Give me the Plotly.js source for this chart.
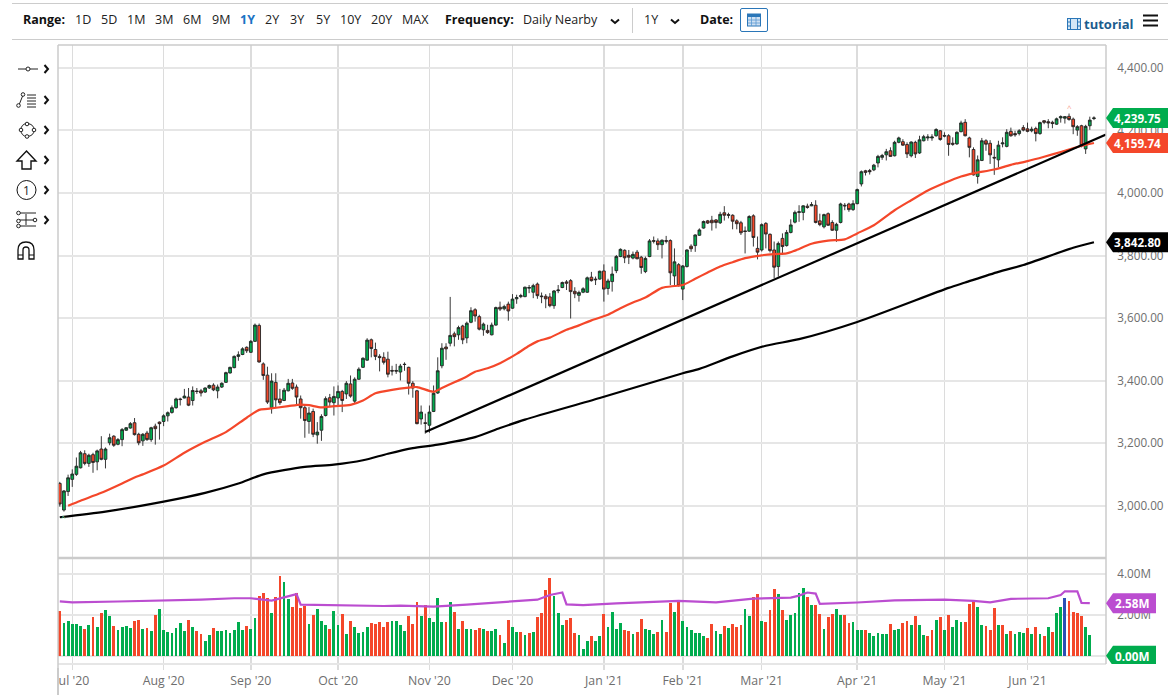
<!DOCTYPE html>
<html>
<head>
<meta charset="utf-8">
<script src="https://cdn.plot.ly/plotly-3.0.1.min.js"></script>
<style>
html,body{margin:0;padding:0;background:#fff;overflow:hidden;width:1174px;height:695px;font-family:"Open Sans",sans-serif;}
#chart{position:absolute;left:0;top:0;width:1174px;height:695px;}
.t{position:absolute;font-size:12.5px;color:#222;line-height:16px;white-space:nowrap;z-index:5;}
.b{font-weight:700;color:#111;}
.hl{position:absolute;height:1px;background:#ccc;z-index:5;}
svg.ic{position:absolute;z-index:5;overflow:visible;}
</style>
</head>
<body>
<div id="chart"></div>
<div id="ui"></div>
<script>
// ---- Data ----
const monthTickDays = [3, 25, 46, 67, 89, 109, 131, 150, 169, 192, 213, 233];
const monthTickLabels = ["Jul '20", "Aug '20", "Sep '20", "Oct '20", "Nov '20", "Dec '20", "Jan '21", "Feb '21", "Mar '21", "Apr '21", "May '21", "Jun '21"];

const opens = [
3072,2987,3046,3085,3101,3122,3167,3136,3164,3141,
3182,3149,3202,3223,3197,3212,3242,3249,3266,3229,
3208,3233,3212,3255,3268,3270,3288,3299,3314,3342,
3345,3348,3337,3367,3368,3364,3377,3386,3368,3380,
3395,3425,3442,3478,3484,3507,3491,3526,3577,3454,
3418,3314,3395,3342,3337,3368,3393,3380,3342,3314,
3270,3302,3227,3242,3289,3346,3330,3345,3366,3358,
3390,3335,3405,3443,3466,3531,3500,3478,3475,3469,
3433,3433,3428,3453,3443,3392,3368,3278,3266,3258,
3302,3361,3448,3508,3520,3550,3547,3575,3537,3587,
3627,3605,3563,3561,3547,3578,3635,3630,3645,3632,
3662,3669,3669,3696,3683,3709,3671,3670,3668,3640,
3688,3698,3716,3720,3686,3673,3683,3683,3731,3725,
3725,3751,3695,3717,3752,3797,3817,3801,3792,3811,
3795,3749,3797,3848,3847,3835,3848,3848,3735,3771,
3693,3765,3830,3832,3865,3888,3911,3913,3914,3905,
3937,3931,3929,3911,3905,3879,3878,3927,3823,3818,
3903,3868,3818,3765,3855,3832,3874,3907,3938,3938,
3958,3959,3961,3911,3892,3934,3906,3881,3906,3961,
3965,3947,3966,4029,4071,4072,4074,4096,4114,4122,
4135,4119,4162,4164,4155,4119,4162,4128,4167,4176,
4176,4183,4199,4184,4183,4159,4157,4196,4226,4176,
4139,4053,4104,4167,4159,4114,4106,4157,4149,4197,
4190,4190,4209,4205,4199,4206,4190,4231,4228,4226,
4220,4240,4239,4245,4236,4201,4215,4141,4215,4238];
const closes = [
3006,3048,3090,3102,3127,3170,3136,3162,3139,3176,
3149,3182,3218,3194,3212,3244,3250,3263,3228,3202,
3229,3212,3250,3247,3263,3288,3298,3314,3342,3340,
3351,3322,3369,3366,3361,3377,3385,3371,3380,3392,
3426,3443,3478,3483,3502,3496,3526,3578,3460,3417,
3332,3399,3339,3330,3370,3392,3376,3348,3314,3273,
3297,3229,3236,3286,3343,3332,3350,3366,3337,3392,
3351,3405,3437,3472,3530,3503,3478,3474,3459,3421,
3431,3431,3447,3452,3392,3377,3263,3300,3264,3300,
3360,3432,3504,3502,3545,3541,3570,3531,3584,3624,
3607,3565,3581,3554,3578,3634,3629,3637,3623,3661,
3666,3672,3699,3698,3704,3672,3669,3662,3640,3687,
3690,3714,3712,3685,3678,3682,3694,3729,3720,3723,
3750,3693,3719,3741,3797,3820,3793,3795,3804,3790,
3762,3791,3847,3846,3835,3849,3846,3745,3780,3704,
3767,3818,3822,3866,3882,3909,3904,3905,3906,3932,
3929,3929,3910,3902,3873,3877,3925,3858,3811,3899,
3869,3816,3763,3839,3829,3874,3898,3938,3940,3959,
3954,3963,3906,3899,3931,3897,3881,3900,3965,3959,
3947,3966,4011,4068,4066,4068,4089,4117,4120,4132,
4117,4162,4176,4153,4125,4163,4125,4170,4180,4179,
4179,4203,4171,4182,4155,4156,4194,4224,4183,4146,
4058,4106,4167,4156,4122,4112,4153,4160,4194,4183,
4186,4199,4201,4197,4204,4190,4225,4226,4224,4222,
4237,4244,4244,4235,4212,4212,4151,4213,4233,4239.75];
const highs = [
3077,3051,3100,3117,3155,3176,3178,3167,3170,3180,
3223,3187,3231,3226,3217,3249,3252,3268,3281,3234,
3233,3240,3253,3263,3270,3293,3302,3321,3346,3346,
3374,3377,3382,3377,3374,3379,3388,3392,3388,3395,
3429,3445,3481,3494,3507,3510,3530,3583,3583,3459,
3445,3424,3424,3374,3377,3406,3406,3388,3353,3323,
3316,3311,3268,3293,3350,3358,3382,3385,3371,3399,
3417,3411,3443,3475,3536,3535,3522,3485,3491,3493,
3448,3454,3454,3459,3445,3399,3371,3321,3295,3321,
3385,3475,3520,3520,3668,3557,3576,3579,3589,3635,
3632,3611,3586,3579,3586,3637,3653,3643,3653,3677,
3675,3678,3701,3706,3710,3714,3682,3677,3680,3690,
3706,3717,3722,3725,3699,3688,3699,3733,3748,3733,
3752,3772,3726,3765,3802,3823,3820,3818,3813,3818,
3799,3797,3853,3861,3855,3852,3863,3852,3823,3776,
3770,3820,3836,3868,3887,3912,3914,3927,3917,3940,
3958,3937,3932,3916,3911,3893,3929,3932,3861,3903,
3907,3871,3845,3845,3871,3882,3916,3944,3961,3961,
3966,3971,3977,3934,3934,3938,3913,3905,3969,3968,
3969,3977,4014,4072,4074,4077,4093,4122,4125,4141,
4146,4167,4180,4172,4162,4165,4167,4183,4186,4188,
4188,4207,4201,4194,4188,4178,4197,4231,4236,4180,
4146,4120,4176,4172,4169,4141,4167,4178,4204,4209,
4199,4204,4217,4225,4212,4212,4228,4233,4236,4231,
4241,4248,4246,4254,4241,4217,4218,4218,4244,4245];
const lows = [
2998,2982,3032,3061,3096,3120,3130,3125,3106,3114,
3146,3120,3194,3189,3194,3191,3240,3247,3225,3194,
3192,3208,3205,3196,3212,3255,3270,3295,3311,3321,
3344,3319,3321,3358,3350,3361,3374,3367,3344,3377,
3393,3423,3440,3464,3482,3489,3489,3524,3458,3403,
3326,3295,3316,3323,3335,3366,3371,3321,3279,3218,
3231,3220,3199,3208,3286,3316,3289,3321,3300,3342,
3346,3329,3403,3441,3464,3475,3466,3430,3452,3411,
3417,3422,3401,3432,3356,3346,3261,3260,3231,3234,
3300,3358,3440,3467,3510,3510,3531,3517,3520,3584,
3589,3561,3544,3550,3545,3576,3623,3625,3592,3630,
3646,3664,3667,3680,3664,3662,3648,3632,3635,3630,
3680,3696,3690,3599,3664,3653,3680,3681,3717,3706,
3723,3653,3675,3685,3744,3795,3776,3773,3788,3788,
3742,3744,3795,3839,3818,3791,3839,3706,3703,3701,
3658,3762,3812,3812,3863,3886,3901,3880,3887,3901,
3912,3919,3884,3884,3866,3807,3876,3829,3788,3813,
3823,3810,3728,3733,3802,3829,3871,3903,3908,3913,
3950,3958,3903,3894,3887,3895,3879,3844,3903,3945,
3940,3943,3964,4021,4056,4059,4070,4082,4106,4104,
4116,4117,4159,4151,4112,4114,4112,4125,4165,4167,
4167,4180,4167,4178,4119,4151,4154,4194,4181,4114,
4056,4030,4102,4135,4093,4058,4082,4146,4146,4180,
4180,4184,4197,4194,4194,4165,4186,4220,4207,4207,
4218,4225,4222,4231,4188,4183,4146,4125,4202,4233];

const ma50Days = [2,5,10,15,18,20,25,30,35,40,45,48,50,55,58,60,63,66,70,73,76,80,84,86,90,92,95,98,100,103,106,110,113,115,118,122,125,128,132,135,138,141,145,148,150,153,156,159,162,165,169,172,175,177,181,185,189,192,196,201,205,209,213,217,220,225,229,233,237,241,245,249];
const ma50Values = [3001,3017,3042,3072,3091,3101,3129,3170,3205,3236,3282,3307,3310,3319,3324,3322,3315,3319,3323,3337,3360,3371,3378,3380,3365,3377,3395,3414,3429,3440,3456,3486,3512,3526,3538,3563,3577,3593,3611,3632,3650,3666,3697,3703,3706,3726,3746,3765,3779,3792,3801,3805,3807,3816,3838,3848,3852,3871,3897,3945,3977,4008,4032,4053,4063,4075,4090,4102,4116,4131,4147,4159.74];

const ma200Days = [0,11,25,35,43,49,59,66,73,79,85,91,100,106,112,130,150,154,162,170,178,192,214,218,226,232,244,249];
const ma200Values = [2964,2982,3014,3042,3072,3101,3125,3132,3146,3167,3185,3196,3220,3249,3276,3345,3424,3438,3478,3512,3533,3588,3697,3714,3748,3770,3825,3842.8];

const trendDays = [88, 251.9];
const trendValues = [3236, 4187];

const volumes = [
2.21,1.59,1.72,1.54,1.54,1.46,1.33,1.52,1.89,1.41,
2.08,2.26,1.93,1.46,1.25,1.39,1.46,1.34,1.72,1.75,
1.30,1.38,1.21,2.00,2.30,1.25,1.15,1.11,1.34,1.61,
1.20,1.74,1.41,1.21,1.07,0.75,1.02,1.36,1.20,1.21,
1.28,1.13,1.26,1.64,1.25,1.44,1.31,1.87,2.92,3.07,
2.84,2.10,2.89,3.93,3.62,2.79,2.38,3.08,2.36,2.46,
1.57,1.98,2.30,1.70,1.49,1.33,2.18,1.51,2.05,1.07,
1.70,1.39,1.10,1.16,1.39,1.62,1.54,1.66,1.39,1.64,
1.70,1.69,1.51,1.21,1.95,1.56,2.62,1.97,2.51,1.85,
1.66,2.82,1.67,1.64,2.62,2.16,1.31,1.69,1.33,1.31,
1.26,1.34,1.30,1.20,1.21,1.30,1.02,0.62,1.74,1.41,
1.15,1.15,1.02,1.11,1.18,1.90,2.10,3.23,3.80,2.95,
2.10,1.51,1.74,1.85,1.10,1.02,0.34,0.75,0.98,0.75,
0.98,2.05,1.41,2.13,1.31,1.62,1.28,1.20,1.05,1.15,
1.79,1.30,1.25,1.07,1.18,1.75,1.16,2.61,2.15,2.66,
1.69,1.41,1.26,1.13,1.13,0.97,0.87,1.56,1.21,1.05,
1.46,1.38,1.54,1.43,1.51,2.31,1.95,2.89,3.03,1.70,
1.66,2.25,3.26,3.02,2.25,1.75,1.98,2.10,3.07,3.30,
2.87,2.48,2.48,2.05,1.31,1.89,2.07,2.30,2.00,2.00,
1.59,1.64,1.25,1.25,1.25,1.11,0.98,1.10,1.08,1.08,
1.54,1.28,1.30,1.61,1.70,1.51,1.95,1.51,1.02,0.97,
1.28,1.75,1.90,1.26,2.00,1.41,1.75,1.66,1.67,2.54,
2.66,2.39,1.51,1.48,1.28,2.33,1.49,1.49,1.05,1.21,
1.05,1.16,1.11,1.38,1.07,1.39,1.07,0.97,1.41,1.16,
2.08,2.39,2.84,2.66,2.13,2.08,1.95,1.41,1.02,0];

const volumeRedDays = [0,6,8,10,13,18,19,21,23,31,33,34,37,45,48,49,50,52,53,56,57,58,59,61,65,68,70,75,76,77,78,79,84,85,86,88,93,95,97,100,101,103,106,108,111,113,115,116,117,118,122,123,124,128,131,136,137,139,140,144,146,147,149,156,157,160,162,163,164,167,168,170,171,172,174,180,182,183,185,186,189,190,194,200,203,204,206,209,210,212,214,218,219,220,223,224,225,227,229,233,235,237,239,243,244,245,246];
const volumeBlueDays = [242];

const volMaDays = [0,3,14,26,34,42,46,51,54,57,58,62,78,82,90,98,108,115,118,121,122,126,134,149,158,167,176,178,180,182,183,192,201,213,220,224,229,238,241,242,245,246,248];
const volMaValues = [2.67,2.62,2.66,2.70,2.75,2.82,2.82,2.70,2.87,3.02,2.51,2.49,2.44,2.46,2.41,2.51,2.64,2.75,2.98,3.10,2.52,2.48,2.57,2.69,2.62,2.80,2.85,2.95,3.10,3.05,2.54,2.61,2.72,2.75,2.69,2.62,2.79,2.82,2.98,3.16,3.16,2.59,2.58];

const priceTicks = [3000,3200,3400,3600,3800,4000,4200,4400];
const volumeTicks = [0,2,4];
const volumeTickLabels = ["", "2.00M", "4.00M"];
const lastPrice = 4239.75, lastMa50 = 4159.74, lastMa200 = 3842.80, lastVolMa = 2.58, lastVolume = 0;

// ---- Styles ----
const GREEN = "#00ac4e", RED = "#f4472a", BLACK = "#000", PURPLE = "#bb4dd0", BLUE = "#2b4fb5";
const TEXT = "#6e6e6e", HGRID = "#e6e6e6", VGRID = "#dcdcdc", EDGE = "#cbcbcb";
const FONT = '"Open Sans", sans-serif';

const days = opens.map((_, i) => i);
const volumeColors = days.map(i => volumeBlueDays.includes(i) ? BLUE : (volumeRedDays.includes(i) ? RED : GREEN));

const traces = [
  {type:"bar", x:days, y:volumes, xaxis:"x", yaxis:"y2", width:0.68,
   marker:{color:volumeColors, line:{width:0}}, hoverinfo:"skip"},
  {type:"scatter", mode:"lines", x:volMaDays, y:volMaValues, xaxis:"x", yaxis:"y2",
   line:{color:PURPLE, width:2.2}, hoverinfo:"skip"},
  {type:"candlestick", x:days, open:opens, high:highs, low:lows, close:closes, xaxis:"x", yaxis:"y",
   increasing:{line:{color:"#222", width:0.9}, fillcolor:GREEN},
   decreasing:{line:{color:"#222", width:0.9}, fillcolor:RED},
   whiskerwidth:0, hoverinfo:"skip"},
  {type:"scatter", mode:"lines", x:ma200Days, y:ma200Values, xaxis:"x", yaxis:"y",
   line:{color:BLACK, width:2.2, shape:"spline", smoothing:0.7}, hoverinfo:"skip"},
  {type:"scatter", mode:"lines", x:ma50Days, y:ma50Values, xaxis:"x", yaxis:"y",
   line:{color:RED, width:2.2, shape:"spline", smoothing:0.7}, hoverinfo:"skip"},
  {type:"scatter", mode:"lines", x:trendDays, y:trendValues, xaxis:"x", yaxis:"y",
   line:{color:BLACK, width:2.2}, hoverinfo:"skip"}
];

function tag(yref, value, text, color, w) {
  return {
    shape:{type:"path", xref:"paper", xsizemode:"pixel", xanchor:1, yref:yref, ysizemode:"pixel", yanchor:value,
      path:`M 0 0 L 7 10 L ${w} 10 L ${w} -10 L 7 -10 Z`, fillcolor:color, line:{width:0}, layer:"above"},
    ann:{xref:"paper", x:1, xshift:w-5, xanchor:"right", yref:yref, y:value, yanchor:"middle", showarrow:false,
      text:"<b>"+text+"</b>", font:{family:FONT, size:11.7, color:"#fff"}}
  };
}
const tags = [
  tag("y", lastPrice, "4,239.75", GREEN, 62),
  tag("y", lastMa50, "4,159.74", RED, 62),
  tag("y", lastMa200, "3,842.80", BLACK, 62),
  tag("y2", lastVolMa, "2.58M", PURPLE, 50),
  tag("y2", lastVolume, "0.00M", GREEN, 50)
];

const frame = (x0,y0,x1,y1,c,w) => ({type:"line", xref:"paper", yref:"paper", x0,y0,x1,y1, line:{color:c,width:w}, layer:"above"});

const layout = {
  width:1174, height:695,
  margin:{l:57.5, r:67.5, t:45, b:31, pad:0},
  paper_bgcolor:"#fff", plot_bgcolor:"#fff",
  showlegend:false, bargap:0, boxgap:0.05, dragmode:false,
  font:{family:FONT, size:12, color:TEXT},
  xaxis:{type:"linear", range:[-0.43,251.9], tickmode:"array", tickvals:monthTickDays, ticktext:monthTickLabels,
    showgrid:true, gridcolor:VGRID, gridwidth:1.5, zeroline:false, showline:false,
    ticks:"outside", ticklen:5, tickcolor:VGRID, tickwidth:1.5,
    tickfont:{family:FONT,size:12.3,color:TEXT}, rangeslider:{visible:false}, anchor:"y2", fixedrange:true},
  yaxis:{domain:[0.1729,1], range:[2837,4473], side:"right", tickmode:"array", tickvals:priceTicks,
    tickformat:",.2f", showgrid:true, gridcolor:HGRID, gridwidth:2, zeroline:false, showline:false,
    ticks:"outside", ticklen:8, tickcolor:"rgba(0,0,0,0)", anchor:"x",
    tickfont:{family:FONT,size:11.7,color:TEXT}, fixedrange:true},
  yaxis2:{domain:[0,0.1696], range:[-0.4,4.74], side:"right", tickmode:"array", tickvals:volumeTicks, ticktext:volumeTickLabels,
    showgrid:true, gridcolor:HGRID, gridwidth:2, zeroline:false, showline:false,
    ticks:"outside", ticklen:8, tickcolor:"rgba(0,0,0,0)", anchor:"x",
    tickfont:{family:FONT,size:11.7,color:TEXT}, fixedrange:true},
  shapes:[
    frame(0,1,1,1,EDGE,1.5),
    frame(0,0.1712,1,0.1712,EDGE,2.5),
    frame(0,0,1,0,HGRID,2),
    frame(0,-0.05,0,1,EDGE,1.5),
    frame(1,0,1,1,EDGE,1.5)
  ].concat(tags.map(t=>t.shape)),
  annotations:tags.map(t=>t.ann).concat([
    {xref:"x", yref:"y", x:243, y:4272, text:"^", showarrow:false, font:{family:FONT,size:8,color:"#f8a090"}},
    {xref:"x", yref:"y", x:1, y:2962, text:"^", showarrow:false, font:{family:FONT,size:8,color:"#7fd6a6"}}
  ])
};

Plotly.newPlot("chart", traces, layout, {displayModeBar:false, staticPlot:true});

// ---- Toolbar chrome ----
const rangeButtons = [["1D",75],["5D",101],["1M",127],["3M",155],["6M",183],["9M",212],["1Y",240],["2Y",265],["3Y",290],["5Y",316],["10Y",340],["20Y",371],["MAX",402]];
const ui = document.getElementById("ui");
let h = "";
const lab = (txt,x,y,cls,extra) => `<div class="t ${cls||""}" style="left:${x}px;top:${y-8}px;${extra||""}">${txt}</div>`;
h += `<div class="hl" style="left:12px;right:6px;top:3px"></div>`;
h += `<div class="hl" style="left:12px;right:6px;top:39px"></div>`;
h += `<div style="position:absolute;left:0;top:668px;width:57px;height:27px;background:#fff;z-index:4"></div>`;
h += `<div style="position:absolute;left:57px;top:668px;width:1.5px;height:27px;background:${EDGE};z-index:4"></div>`;
h += lab("Range:",23,20,"b");
rangeButtons.forEach(([t,x]) => { h += lab(t,x,20,"", t==="1Y"?"color:#1a73c4;font-weight:700":""); });
h += lab("Frequency:",445,20,"b");
h += lab("Daily Nearby",523,20);
h += lab("1Y",644,20);
h += lab("Date:",700,20,"b");
h += `<div style="position:absolute;left:632px;top:8px;width:1px;height:25px;background:#ccc;z-index:5"></div>`;
const chev = (x,y) => `<svg class="ic" style="left:${x}px;top:${y}px" width="10" height="7"><path d="M1 1.5 L5 5 L9 1.5" fill="none" stroke="#111" stroke-width="2"/></svg>`;
h += chev(610,18) + chev(670,18);
h += `<div style="position:absolute;left:740px;top:8px;width:26px;height:22px;border:1px solid #2a76b8;border-radius:2px;z-index:5"></div>`;
h += `<svg class="ic" style="left:747px;top:12px" width="14" height="15"><rect x="0.5" y="2" width="13" height="12" fill="#cfe0f2" stroke="#2a76b8"/><rect x="0.5" y="2" width="13" height="3" fill="#2a76b8"/><path d="M4.5 5V14M9 5V14M1 8H13M1 11H13" stroke="#5b9ad2" stroke-width="0.8"/></svg>`;
h += `<svg class="ic" style="left:1067px;top:18px" width="14" height="12"><rect x="0.5" y="0.5" width="13" height="11" fill="#d3e6f5" stroke="#2a76b8"/><path d="M3.5 0V12M10.5 0V12M0 4H3.5M0 8H3.5M10.5 4H14M10.5 8H14" stroke="#2a76b8"/></svg>`;
h += lab("tutorial",1084,24,"","font-weight:700;font-size:13px;color:#1c5d8e");
h += `<svg class="ic" style="left:1143px;top:14px" width="15" height="13"><path d="M0 1.5H15M0 6.5H15M0 11.5H15" stroke="#111" stroke-width="2.2"/></svg>`;
const chevR = (y) => `<svg class="ic" style="left:43px;top:${y-5}px" width="7" height="10"><path d="M1.5 1 L5 5 L1.5 9" fill="none" stroke="#111" stroke-width="2"/></svg>`;
const icons = [
  [69,`<path d="M2 8H10M14 8H22" stroke="#222"/><circle cx="12" cy="8" r="2" fill="#fff" stroke="#222"/>`],
  [100,`<path d="M3 13L7 3" stroke="#222"/><circle cx="2.5" cy="13.5" r="1.8" fill="#fff" stroke="#222"/><circle cx="7" cy="2.5" r="1.8" fill="#fff" stroke="#222"/><path d="M11 3H20M11 6H20M11 9H20M11 12H20M11 15H20" stroke="#222"/>`],
  [130,`<path d="M4 8Q4 2 10 1.5Q17 2 17 8Q17 14 10 14.5Q4 14 4 8Z" transform="translate(1,0)" fill="none" stroke="#222"/><circle cx="11" cy="2" r="1.8" fill="#fff" stroke="#222"/><circle cx="11" cy="14.5" r="1.8" fill="#fff" stroke="#222"/><circle cx="5" cy="8" r="1.8" fill="#fff" stroke="#222"/><circle cx="18" cy="8" r="1.8" fill="#fff" stroke="#222"/>`],
  [160,`<path d="M10.5 -1L20 9H15V17H6V9H1Z" fill="#fff" stroke="#111" stroke-width="1.4"/>`],
  [190,`<circle cx="10.5" cy="8" r="9.5" fill="#fff" stroke="#111"/><text x="10.5" y="12.5" font-size="12" text-anchor="middle" fill="#222" font-family="Open Sans">1</text>`],
  [220,`<path d="M3 1H20M3 8H18M3 14H20M10 2V13" stroke="#222"/><circle cx="2.5" cy="1" r="1.8" fill="#fff" stroke="#222"/><circle cx="2.5" cy="9" r="1.8" fill="#fff" stroke="#222"/><circle cx="2.5" cy="14" r="1.8" fill="#fff" stroke="#222"/><circle cx="19" cy="8" r="1.8" fill="#fff" stroke="#222"/>`],
  [250,`<path d="M2 17V8Q2 0 10 0Q18 0 18 8V17H13V8Q13 5 10 5Q7 5 7 8V17Z" fill="#fff" stroke="#111" stroke-width="1.3"/><path d="M2 13H7M13 13H18" stroke="#111"/>`]
];
icons.forEach(([y,p],i) => {
  h += `<svg class="ic" style="left:16px;top:${y-8}px" width="22" height="18">${p}</svg>`;
  if (i<6) h += chevR(y);
});
ui.innerHTML = h;
</script>
</body>
</html>
